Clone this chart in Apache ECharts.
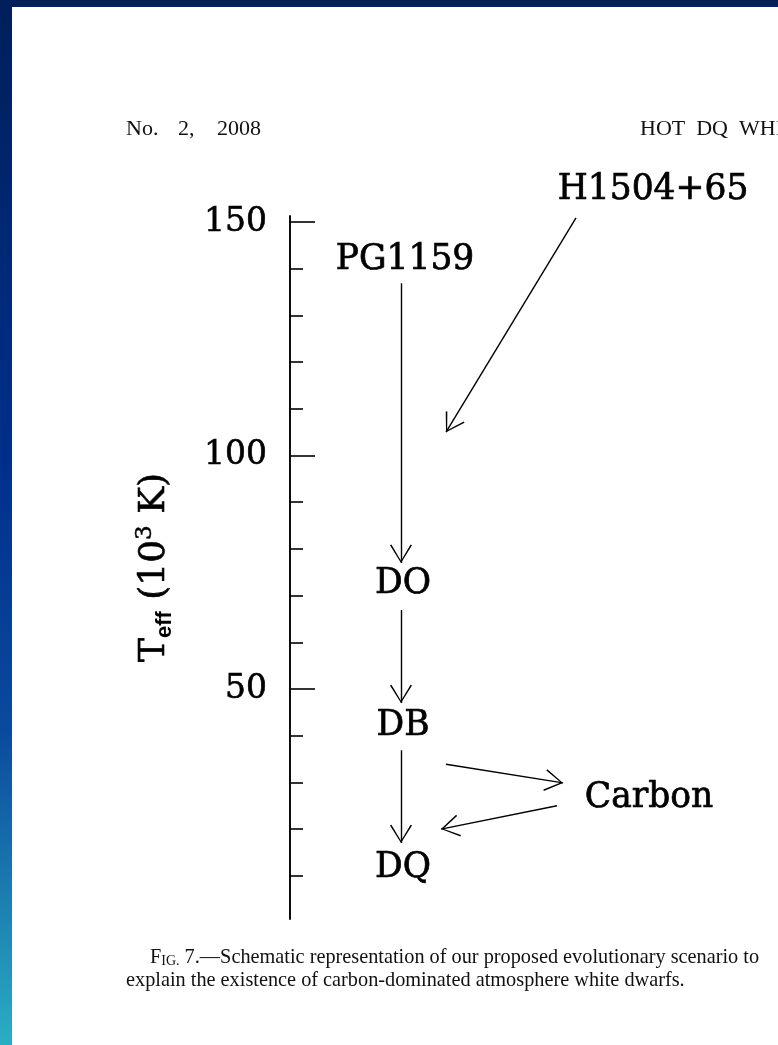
<!DOCTYPE html>
<html>
<head>
<meta charset="utf-8">
<script src="https://cdn.jsdelivr.net/npm/echarts@6/dist/echarts.min.js"></script>
<style>
	html, body { margin: 0; padding: 0; background: #fff; }
	#chart { width: 778px; height: 1045px; }
</style>
</head>
<body>
<div id="chart"></div>
<script>
	// T_eff axis (10^3 K)
	var tMin = 0.75;
	var tMax = 151.3;
	var minorTicks = [10, 20, 30, 40, 60, 70, 80, 90, 110, 120, 130, 140];
	var majorTicks = [50, 100, 150];

	// labels: x = px right of the axis, t = T_eff
	var nodeNames = ['PG1159', 'H1504+65', 'DO', 'DB', 'DQ', 'Carbon'];
	var nodeX = [115, 363, 113, 113, 113, 359];
	var nodeT = [142.3, 157.3, 72.9, 42.5, 12.1, 27.1];

	// arrows: start -> tip
	var arrowFromX = [111, 286, 111, 111, 156, 267];
	var arrowFromT = [136.9, 150.9, 66.9, 36.9, 33.9, 25.0];
	var arrowToX = [111, 156, 111, 111, 273, 151];
	var arrowToT = [77.0, 105.0, 47.0, 17.0, 29.9, 20.0];

	// open V arrow head, tip at the centre of the box
	var vHead = 'path://M11 1.6L11.01 1.6L11 1.61Z M11 20L22 37.6L20.6 38.4L11 22.3L1.4 38.4L0 37.6Z';

	var plotFont = 'DejaVu Serif';
	var serif = 'Liberation Serif';

	var nodeData = [];
	for (var i = 0; i < nodeNames.length; i++) {
		nodeData.push([nodeX[i], nodeT[i]]);
	}
	var arrowData = [];
	for (var j = 0; j < arrowFromX.length; j++) {
		arrowData.push({ coords: [[arrowFromX[j], arrowFromT[j]], [arrowToX[j], arrowToT[j]]] });
	}

	var myChart = echarts.init(document.getElementById('chart'));
	var option = {
		backgroundColor: '#fff',
		animation: false,
		grid: {
			left: 290,
			right: 0,
			top: 216,
			height: 703
		},
		xAxis: {
			type: 'value',
			min: 0,
			max: 488,
			show: false
		},
		yAxis: [{
			type: 'value',
			min: tMin,
			max: tMax,
			position: 'left',
			axisLine: { show: true, lineStyle: { color: '#000', width: 1.9 } },
			axisTick: { show: true, inside: true, length: 13, customValues: minorTicks, lineStyle: { color: '#000', width: 1.6 } },
			axisLabel: { show: false },
			splitLine: { show: false }
		}, {
			type: 'value',
			min: tMin,
			max: tMax,
			position: 'left',
			axisLine: { show: false },
			axisTick: { show: true, inside: true, length: 25, customValues: majorTicks, lineStyle: { color: '#000', width: 1.6 } },
			axisLabel: {
				show: true,
				customValues: majorTicks,
				margin: 23,
				color: '#000',
				fontFamily: plotFont,
				fontSize: 33,
				textBorderColor: '#000',
				textBorderWidth: 0.6
			},
			splitLine: { show: false },
			name: '{t|T}{s|eff} {t|(10}{p|3}{t| K)}',
			nameLocation: 'middle',
			nameRotate: 90,
			nameGap: 114,
			nameTextStyle: {
				color: '#000',
				fontFamily: plotFont,
				fontSize: 36,
				rich: {
					t: { color: '#000', fontFamily: plotFont, fontSize: 36, lineHeight: 42, textBorderColor: '#000', textBorderWidth: 0.6 },
					s: { color: '#000', fontFamily: 'Liberation Sans', fontWeight: 'bold', fontSize: 22, verticalAlign: 'bottom', lineHeight: 42, padding: [12, 0, 0, 0] },
					p: { color: '#000', fontFamily: plotFont, fontSize: 23, verticalAlign: 'top', lineHeight: 42, padding: [0, 0, 14, 0], textBorderColor: '#000', textBorderWidth: 0.5 }
				}
			}
		}],
		series: [{
			type: 'scatter',
			clip: false,
			symbolSize: 0,
			itemStyle: { opacity: 1 },
			data: nodeData,
			label: {
				show: true,
				position: 'inside',
				offset: [0, 2],
				formatter: function(p) { return nodeNames[p.dataIndex]; },
				color: '#000',
				fontFamily: plotFont,
				fontSize: 34.5,
				textBorderColor: '#000',
				textBorderWidth: 0.7
			}
		}, {
			type: 'lines',
			coordinateSystem: 'cartesian2d',
			symbol: ['none', vHead],
			symbolSize: [0, [22, 36.8]],
			lineStyle: { color: '#000', width: 1.4, opacity: 1 },
			itemStyle: { color: '#000' },
			data: arrowData
		}],
		graphic: [{
			type: 'rect',
			shape: { x: 0, y: 0, width: 12, height: 1045 },
			style: {
				fill: {
					type: 'linear', x: 0, y: 0, x2: 0, y2: 1,
					colorStops: [
						{ offset: 0, color: '#001f5b' },
						{ offset: 0.45, color: '#00308c' },
						{ offset: 0.7, color: '#0a4a9e' },
						{ offset: 0.88, color: '#1e85b3' },
						{ offset: 1, color: '#2aaec4' }
					]
				}
			}
		}, {
			type: 'rect',
			shape: { x: 0, y: 0, width: 778, height: 7 },
			style: { fill: '#001f5b' }
		}, {
			type: 'text',
			x: 126, y: 118,
			style: { text: 'No.', font: '22px ' + serif, fill: '#111' }
		}, {
			type: 'text',
			x: 178, y: 118,
			style: { text: '2,', font: '22px ' + serif, fill: '#111' }
		}, {
			type: 'text',
			x: 217, y: 118,
			style: { text: '2008', font: '22px ' + serif, fill: '#111' }
		}, {
			type: 'text',
			x: 640, y: 118,
			style: { text: 'HOT  DQ  WHITE DWARFS', font: '22px ' + serif, fill: '#111' }
		}, {
			type: 'text',
			x: 150, y: 948,
			style: {
				text: '{a|F}{b|IG.} 7.—Schematic representation of our proposed evolutionary scenario to',
				font: '20.3px ' + serif, fill: '#111',
				rich: { a: { fontFamily: serif, fontSize: 20.3, fill: '#111' }, b: { fontFamily: serif, fontSize: 14, fill: '#111', verticalAlign: 'bottom' } }
			}
		}, {
			type: 'text',
			x: 126, y: 971,
			style: { text: 'explain the existence of carbon-dominated atmosphere white dwarfs.', font: '20.3px ' + serif, fill: '#111' }
		}]
	};
	myChart.setOption(option);
</script>
</body>
</html>
